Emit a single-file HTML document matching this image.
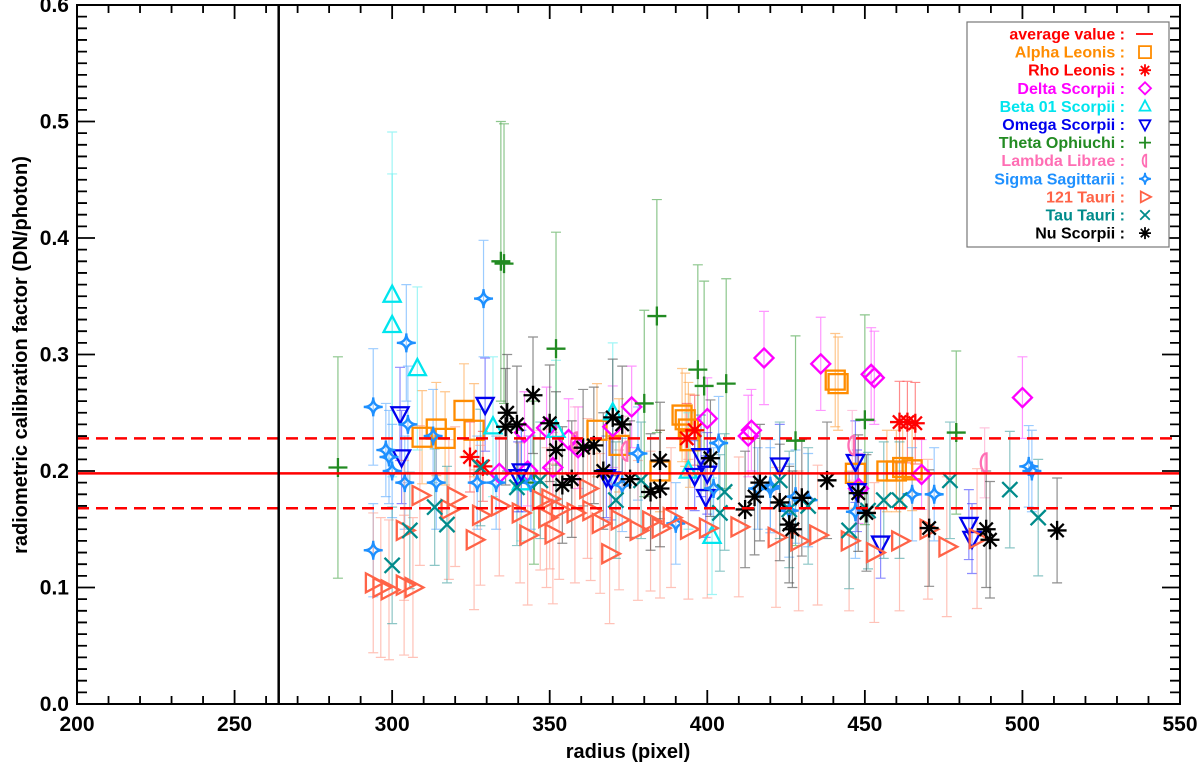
<!DOCTYPE html>
<html><head><meta charset="utf-8"><style>
html,body{margin:0;padding:0;background:#fff;}
svg{display:block;font-family:"Liberation Sans",sans-serif;font-weight:bold;}
</style></head><body>
<svg id="chart" width="1200" height="767" viewBox="0 0 1200 767" xmlns="http://www.w3.org/2000/svg">
<g id="bars"></g>
<g id="marks"></g>
<g id="axes"></g>
<text x="628" y="758" font-size="20" text-anchor="middle">radius (pixel)</text>
<text x="0" y="0" font-size="20" text-anchor="middle" transform="translate(27,355) rotate(-90)">radiometric calibration factor (DN/photon)</text>
<g id="legend"></g>
</svg>
<script>
const xTicks=[200,250,300,350,400,450,500,550];
const yTicks=[0.0,0.1,0.2,0.3,0.4,0.5,0.6];
const avgValue=0.198, avgUpper=0.228, avgLower=0.168, cutRadius=264;
// [radius, factor, error]
const alphaLeonis=[[309.5,.229,.04],[314,.236,.04],[316.8,.228,.04],[322.8,.252,.04],[326,.235,.04],[365,.235,.04],[392,.248,.04],[393,.244,.04],[394,.236,.04],[394.5,.226,.04],[372,.222,.04],[385,.2,.035],[440.6,.278,.04],[441.5,.275,.04],[457,.2,.035],[460,.2,.035],[462,.203,.035],[465,.201,.035],[447,.198,.03]];
const rhoLeonis=[[324.7,.212,.03],[328.8,.204,.03],[393.5,.228,.03],[396,.235,.03],[461,.242,.035],[463.5,.242,.035],[466,.241,.035]];
const deltaScorpii=[[418,.297,.04],[436,.292,.04],[452,.283,.04],[453,.28,.04],[500,.263,.035],[414,.235,.035],[413,.23,.035],[400,.245,.035],[376,.255,.035],[356,.227,.035],[359,.22,.035],[349,.237,.035],[342,.233,.035],[334,.198,.03],[343,.2,.03],[351,.203,.03],[468,.197,.03],[448,.185,.03],[370,.238,.035]];
const beta01Scorpii=[[300,.351,.14],[300,.325,.13],[308,.288,.07],[332,.238,.06],[352,.235,.06],[370,.25,.06],[401.5,.144,.05],[394,.2,.05],[341,.19,.05]];
const omegaScorpii=[[302.5,.249,.04],[303,.212,.04],[329.5,.257,.04],[341,.2,.035],[368,.195,.035],[369.5,.193,.035],[398,.213,.035],[400,.198,.035],[399.5,.178,.035],[423,.205,.035],[447,.208,.035],[447.5,.183,.035],[455,.138,.03],[483,.154,.03],[484,.142,.03],[396,.196,.03],[340,.195,.03]];
const thetaOphiuchi=[[334.5,.38,.12],[335.5,.378,.12],[352,.305,.1],[384,.333,.1],[397,.287,.09],[399,.273,.09],[406,.275,.09],[428,.226,.09],[450,.244,.09],[282.8,.203,.095],[345,.19,.07],[380,.258,.08],[479,.233,.07]];
const lambdaLibrae=[[374,.217,.03],[446,.222,.03],[488,.207,.03],[358,.225,.03]];
const sigmaSagittarii=[[329,.348,.05],[304.5,.31,.05],[305,.24,.05],[294,.255,.05],[294,.132,.04],[298,.218,.04],[299,.212,.04],[300,.2,.04],[304,.19,.04],[313,.23,.04],[314,.19,.04],[327,.19,.04],[333,.19,.04],[373,.188,.04],[378,.215,.04],[403.6,.224,.04],[420,.187,.04],[426,.166,.04],[428,.178,.04],[432,.175,.04],[447,.165,.04],[465,.18,.04],[472,.18,.04],[502,.204,.035],[503,.2,.035],[402,.185,.035],[416,.185,.035],[420,.185,.035],[390,.155,.035],[344,.19,.04]];
const tau121=[[294,.104,.06],[296.4,.1,.06],[299,.098,.06],[303.8,.102,.06],[306.6,.1,.06],[303.8,.149,.06],[308.8,.179,.06],[320,.178,.06],[318,.167,.06],[326,.141,.06],[328,.162,.06],[334,.17,.06],[340.6,.164,.06],[349,.16,.06],[350,.176,.06],[358,.164,.06],[363,.166,.06],[366,.155,.06],[372,.158,.06],[382,.157,.06],[388.5,.16,.06],[394,.15,.06],[400,.151,.06],[410,.152,.06],[421.8,.143,.06],[429,.14,.06],[435,.145,.06],[445,.14,.06],[453,.13,.06],[461,.14,.06],[470,.15,.06],[476,.135,.06],[485.6,.142,.06],[343,.145,.06],[351,.146,.06],[369,.129,.06],[378,.149,.06],[385,.151,.06],[347,.175,.06],[353,.167,.06],[362,.185,.06]];
const tauTauri=[[300,.119,.05],[305.6,.149,.05],[313.5,.169,.05],[317.4,.154,.05],[328,.203,.05],[339.6,.186,.05],[347,.192,.05],[371,.175,.05],[379,.192,.05],[404,.164,.05],[405.5,.182,.05],[423,.192,.05],[426,.167,.05],[432,.17,.05],[445,.149,.05],[451,.166,.05],[456,.175,.05],[461,.175,.05],[477,.192,.05],[496,.184,.05],[505,.16,.05]];
const nuScorpii=[[336.5,.25,.05],[339.6,.24,.05],[344.7,.265,.05],[350,.241,.05],[352,.218,.05],[357,.193,.05],[360.6,.22,.05],[364,.222,.05],[367,.2,.05],[373,.24,.05],[375.5,.193,.05],[385,.209,.05],[385,.185,.05],[401,.211,.05],[412,.167,.05],[415,.178,.05],[416.7,.19,.05],[423,.173,.05],[426,.154,.05],[430,.177,.05],[438,.192,.05],[447.9,.181,.05],[450.5,.164,.05],[470.4,.151,.05],[488.5,.15,.05],[489.7,.141,.05],[511,.149,.045],[382,.182,.05],[336,.238,.05],[370,.246,.05],[354,.188,.05],[427,.15,.05]];

const series=[
 {name:'Alpha Leonis',color:'#ff8c00',bar:'#ffa040',sym:'square',data:alphaLeonis},
 {name:'Rho Leonis',color:'#ff0000',bar:'#ff4040',sym:'aster',data:rhoLeonis},
 {name:'Delta Scorpii',color:'#ff00ff',bar:'#ff50ff',sym:'diamond',data:deltaScorpii},
 {name:'Beta 01 Scorpii',color:'#00e5ee',bar:'#60eeee',sym:'tri',data:beta01Scorpii},
 {name:'Omega Scorpii',color:'#0000ee',bar:'#4040ff',sym:'itri',data:omegaScorpii},
 {name:'Theta Ophiuchi',color:'#228b22',bar:'#40a040',sym:'plus',data:thetaOphiuchi},
 {name:'Lambda Librae',color:'#ff6eb4',bar:'#ff9ec8',sym:'half',data:lambdaLibrae},
 {name:'Sigma Sagittarii',color:'#1e90ff',bar:'#5aaaff',sym:'star4',data:sigmaSagittarii},
 {name:'121 Tauri',color:'#ff6347',bar:'#ff9a88',sym:'rtri',data:tau121},
 {name:'Tau Tauri',color:'#008b8b',bar:'#40a0a0',sym:'x',data:tauTauri},
 {name:'Nu Scorpii',color:'#000000',bar:'#444444',sym:'aster',data:nuScorpii}
];
const L=77,R=1180,T=5,B=704;
const xs=v=>L+(v-200)/350*(R-L);
const ys=v=>B-(v/0.6)*(B-T);
const NS='http://www.w3.org/2000/svg';
function mk(tag,attrs,parent){const e=document.createElementNS(NS,tag);for(const k in attrs)e.setAttribute(k,attrs[k]);parent.appendChild(e);return e;}
function symPath(s,x,y,r){
 switch(s){
 case 'square':return `M${x-r} ${y-r}H${x+r}V${y+r}H${x-r}Z`;
 case 'diamond':return `M${x} ${y-r}L${x+r} ${y}L${x} ${y+r}L${x-r} ${y}Z`;
 case 'tri':return `M${x} ${y-r}L${x+r*0.9} ${y+r*0.7}L${x-r*0.9} ${y+r*0.7}Z`;
 case 'itri':return `M${x} ${y+r}L${x+r*0.9} ${y-r*0.7}L${x-r*0.9} ${y-r*0.7}Z`;
 case 'rtri':return `M${x+r} ${y}L${x-r*0.7} ${y+r*0.9}L${x-r*0.7} ${y-r*0.9}Z`;
 case 'plus':return `M${x-r} ${y}H${x+r}M${x} ${y-r}V${y+r}`;
 case 'x':return `M${x-r*0.8} ${y-r*0.8}L${x+r*0.8} ${y+r*0.8}M${x-r*0.8} ${y+r*0.8}L${x+r*0.8} ${y-r*0.8}`;
 case 'aster':return `M${x-r} ${y}H${x+r}M${x-r*0.7} ${y-r*0.7}L${x+r*0.7} ${y+r*0.7}M${x-r*0.7} ${y+r*0.7}L${x+r*0.7} ${y-r*0.7}M${x} ${y-r}V${y+r}`;
 case 'half':return `M${x+r*0.2} ${y-r}A${r*0.6} ${r} 0 0 0 ${x+r*0.2} ${y+r}Z`;
 case 'star4':return `M${x} ${y-r}Q${x} ${y} ${x+r} ${y}Q${x} ${y} ${x} ${y+r}Q${x} ${y} ${x-r} ${y}Q${x} ${y} ${x} ${y-r}Z`;
 }
}
const bars=document.getElementById('bars'),marks=document.getElementById('marks'),axes=document.getElementById('axes');
series.forEach(s=>{
 s.data.forEach(d=>{
  const x=xs(d[0]),y1=ys(d[1]-d[2]),y2=ys(d[1]+d[2]);
  const p=mk('path',{d:`M${x} ${y1}V${y2}M${x-5} ${y1}H${x+5}M${x-5} ${y2}H${x+5}`,stroke:s.bar,'stroke-width':1.2,fill:'none',opacity:0.6},bars);
  
  
  const m=mk('path',{d:symPath(s.sym,x,ys(d[1]),s.sym==='rtri'?10.5:9.5),stroke:s.color,'stroke-width':2.3,fill:'none'},marks);
  
  
 });
});
[[avgValue,''],[avgUpper,'12 7'],[avgLower,'12 7']].forEach((l,i)=>{
 const e=mk('line',{x1:L,x2:R,y1:ys(l[0]),y2:ys(l[0]),stroke:'#ff0000','stroke-width':2.5,'stroke-dasharray':l[1]},axes);
 
 
});
const vl=mk('line',{x1:xs(cutRadius),x2:xs(cutRadius),y1:T,y2:B,stroke:'#000','stroke-width':2.5},axes);


const fr=mk('rect',{x:L,y:T,width:R-L,height:B-T,fill:'none',stroke:'#000','stroke-width':2},axes);


let td='';
for(let v=200;v<=550;v+=10){const x=xs(v),len=(v%50===0)?14:8;td+=`M${x} ${B}v${-len}M${x} ${T}v${len}`;}
for(let i=0;i<=60;i++){const y=ys(i/100),len=(i%10===0)?18:10;td+=`M${L} ${y}h${len}M${R} ${y}h${-len}`;}
const tk=mk('path',{d:td,stroke:'#000','stroke-width':1.8},axes);


xTicks.forEach(v=>{const t=mk('text',{x:xs(v),y:731,'font-size':21,'text-anchor':'middle'},axes);t.textContent=v;
 });
yTicks.forEach(v=>{const t=mk('text',{x:69,y:ys(v)+7,'font-size':21,'text-anchor':'end'},axes);t.textContent=v.toFixed(1);
 });
const lg=document.getElementById('legend');
const lb=mk('rect',{x:967,y:22,width:202,height:225,fill:'#fff',stroke:'#777','stroke-width':1.2},lg);


const entries=[{name:'average value',color:'#ff0000',sym:'line'}].concat(series);
entries.forEach((s,i)=>{
 const y=34+i*18.1;
 const t=mk('text',{x:1125,y:y+5.5,'font-size':16,'text-anchor':'end',fill:s.color},lg);
 t.textContent=s.name+' :';
 
 
 let d=s.sym==='line'?`M1136 ${y}H1153`:symPath(s.sym,1145,y,6);
 const m=mk('path',{d:d,stroke:s.color,'stroke-width':1.8,fill:'none'},lg);
 
 
});
</script>
</body></html>
